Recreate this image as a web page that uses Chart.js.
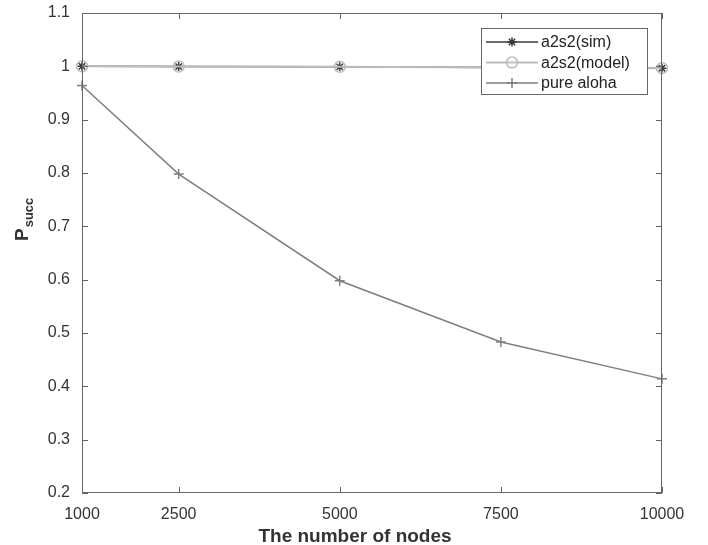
<!DOCTYPE html>
<html>
<head>
<meta charset="utf-8">
<script src="https://cdn.jsdelivr.net/npm/chart.js@4/dist/chart.umd.min.js"></script>
<style>
  body { margin: 0; background: #fff; }
  canvas { display: block; }
</style>
</head>
<body>
<canvas id="chart" width="708" height="545"></canvas>
<script>
// data
const nodes = [1000, 2500, 5000, 7500, 10000];
const simValues = [1.0, 0.9995, 0.999, 0.998, 0.9965];
const modelValues = [1.0, 0.9995, 0.999, 0.998, 0.9965];
const alohaValues = [0.964, 0.798, 0.598, 0.483, 0.414];
const xTicks = [1000, 2500, 5000, 7500, 10000];
const seriesNames = ['a2s2(sim)', 'a2s2(model)', 'pure aloha'];

const FONT = '"Liberation Sans", Arial, Helvetica, sans-serif';
const AXIS = '#666';

function pts(ys) {
    return nodes.map((x, i) => ({ x: x, y: ys[i] }));
}

// box with inward ticks on all four sides, MATLAB style
const boxPlugin = {
    id: 'box',
    afterDatasetsDraw(chart) {
        const { ctx, chartArea: a, scales } = chart;
        ctx.save();
        ctx.strokeStyle = AXIS;
        ctx.lineWidth = 1;
        ctx.strokeRect(a.left + 0.5, a.top + 0.5, a.right - a.left - 1, a.bottom - a.top - 1);
        ctx.beginPath();
        scales.x.ticks.forEach(t => {
            const px = Math.round(scales.x.getPixelForValue(t.value)) + 0.5;
            ctx.moveTo(px, a.bottom); ctx.lineTo(px, a.bottom - 6);
            ctx.moveTo(px, a.top); ctx.lineTo(px, a.top + 6);
        });
        scales.y.ticks.forEach(t => {
            const py = Math.round(scales.y.getPixelForValue(t.value)) + 0.5;
            ctx.moveTo(a.left, py); ctx.lineTo(a.left + 6, py);
            ctx.moveTo(a.right, py); ctx.lineTo(a.right - 6, py);
        });
        ctx.stroke();
        ctx.restore();
    },
    afterDraw(chart) {
        const ctx = chart.ctx;
        ctx.save();
        ctx.fillStyle = '#333';
        // x title
        ctx.font = 'bold 19px ' + FONT;
        ctx.textAlign = 'center';
        ctx.textBaseline = 'alphabetic';
        ctx.fillText('The number of nodes', 355, 542);
        // y title P_succ
        ctx.translate(28, 241);
        ctx.rotate(-Math.PI / 2);
        ctx.textAlign = 'left';
        ctx.font = 'bold 19px ' + FONT;
        ctx.fillText('P', 0, 0);
        const w = ctx.measureText('P').width;
        ctx.font = 'bold 13px ' + FONT;
        ctx.fillText('succ', w + 1, 5);
        ctx.restore();

        // legend
        const lx = 481, ly = 28, lw = 166, lh = 66;
        ctx.save();
        ctx.fillStyle = '#fff';
        ctx.fillRect(lx, ly, lw, lh);
        ctx.strokeStyle = AXIS;
        ctx.lineWidth = 1;
        ctx.strokeRect(lx + 0.5, ly + 0.5, lw, lh);
        chart.data.datasets.forEach((ds, i) => {
            const y = 42 + i * 20.5;
            ctx.strokeStyle = ds.borderColor;
            ctx.lineWidth = ds.borderWidth;
            ctx.beginPath();
            ctx.moveTo(486, y); ctx.lineTo(538, y);
            ctx.stroke();
            ctx.fillStyle = 'rgba(0,0,0,0)';
            ctx.lineWidth = ds.pointBorderWidth;
            Chart.helpers.drawPoint(ctx, {
                pointStyle: ds.pointStyle, radius: ds.pointRadius,
                borderWidth: ds.pointBorderWidth, rotation: 0
            }, 512, y);
            ctx.fillStyle = '#222';
            ctx.font = '16px ' + FONT;
            ctx.textBaseline = 'middle';
            ctx.textAlign = 'left';
            ctx.fillText(ds.label, 541, y + 1);
        });
        ctx.restore();
    }
};

new Chart(document.getElementById('chart'), {
    type: 'line',
    data: {
        datasets: [
            {
                label: seriesNames[0], data: pts(simValues),
                borderColor: '#3a3a3a', backgroundColor: 'rgba(0,0,0,0)', borderWidth: 1.5,
                pointStyle: 'star', pointRadius: 4.5, pointBorderWidth: 1.5,
                pointBorderColor: '#3a3a3a', order: 2, clip: false
            },
            {
                label: seriesNames[1], data: pts(modelValues),
                borderColor: '#bdbdbd', backgroundColor: 'rgba(0,0,0,0)', borderWidth: 2,
                pointStyle: 'circle', pointRadius: 5.5, pointBorderWidth: 1.5,
                pointBorderColor: '#bdbdbd', pointBackgroundColor: 'rgba(0,0,0,0)', order: 1, clip: false
            },
            {
                label: seriesNames[2], data: pts(alohaValues),
                borderColor: '#7f7f7f', backgroundColor: 'rgba(0,0,0,0)', borderWidth: 1.5,
                pointStyle: 'cross', pointRadius: 5, pointBorderWidth: 1.5,
                pointBorderColor: '#7f7f7f', order: 0, clip: false
            }
        ]
    },
    options: {
        responsive: false,
        animation: false,
        layout: { padding: { top: 13, right: 46, left: 0, bottom: 0 } },
        plugins: { legend: { display: false }, tooltip: { enabled: false } },
        elements: { line: { tension: 0 } },
        scales: {
            x: {
                type: 'linear', min: 1000, max: 10000,
                afterBuildTicks: s => { s.ticks = xTicks.map(v => ({ value: v })); },
                afterFit: s => { s.height = 52; s.paddingLeft = 0; s.paddingRight = 0; },
                grid: { display: false, drawTicks: false },
                border: { display: false },
                ticks: {
                    color: '#333', padding: 12, maxRotation: 0,
                    font: { family: FONT, size: 16 },
                    callback: v => String(v)
                }
            },
            y: {
                min: 0.2, max: 1.1,
                afterFit: s => { s.width = 82; s.paddingTop = 0; s.paddingBottom = 0; },
                grid: { display: false, drawTicks: false },
                border: { display: false },
                ticks: {
                    stepSize: 0.1, color: '#333', padding: 12,
                    font: { family: FONT, size: 16 },
                    callback: v => String(Math.round(v * 10) / 10)
                }
            }
        }
    },
    plugins: [boxPlugin]
});
</script>
</body>
</html>
